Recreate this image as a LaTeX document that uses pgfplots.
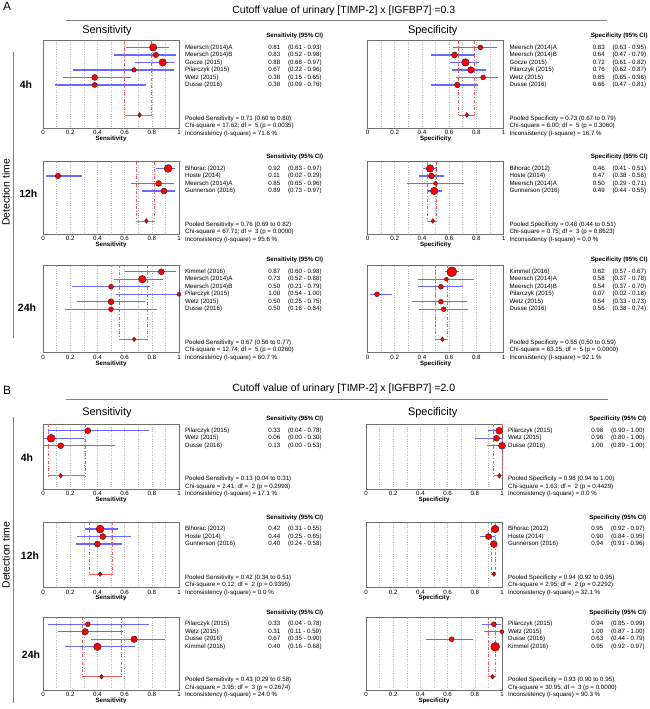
\documentclass[border=0pt]{standalone}
\usepackage{pgfplots}
\usepackage{pgfplotstable}
\usepackage{fontspec}
\setmainfont{Liberation Sans}
\pgfplotsset{compat=1.18}

\definecolor{cibar}{RGB}{105,105,255}
\definecolor{pool}{RGB}{255,90,90}
\definecolor{gridc}{RGB}{185,185,185}
\definecolor{framec}{RGB}{110,110,110}

\newcommand{\sm}{\fontsize{6.2}{7.5}\selectfont}

% study tables: row, estimate, 95% CI, marker radius, study
\pgfplotstableread[col sep=comma]{
row,est,lo,hi,r,name
1,0.81,0.61,0.93,3.7,Meersch (2014)A
2,0.83,0.52,0.98,2.8,Meersch (2014)B
3,0.88,0.68,0.97,3.7,Gocze (2015)
4,0.67,0.22,0.96,2.3,Pilarczyk (2015)
5,0.38,0.15,0.65,3.0,Wetz (2015)
6,0.38,0.09,0.76,2.6,Dusse (2016)
}\aSensFour
\pgfplotstableread[col sep=comma]{
row,est,lo,hi,r,name
1,0.83,0.63,0.95,2.5,Meersch (2014)A
2,0.64,0.47,0.79,3.0,Meersch (2014)B
3,0.72,0.61,0.82,3.8,Gocze (2015)
4,0.76,0.62,0.87,3.3,Pilarczyk (2015)
5,0.85,0.65,0.96,2.5,Wetz (2015)
6,0.66,0.47,0.81,2.8,Dusse (2016)
}\aSpecFour
\pgfplotstableread[col sep=comma]{
row,est,lo,hi,r,name
1,0.92,0.83,0.97,4.0,Bihorac (2012)
2,0.11,0.02,0.29,2.8,Hoste (2014)
3,0.85,0.65,0.96,3.0,Meersch (2014)A
4,0.89,0.73,0.97,3.0,Gunnerson (2016)
}\aSensTwelve
\pgfplotstableread[col sep=comma]{
row,est,lo,hi,r,name
1,0.46,0.41,0.51,3.8,Bihorac (2012)
2,0.47,0.38,0.56,3.0,Hoste (2014)
3,0.50,0.29,0.71,2.0,Meersch (2014)A
4,0.49,0.44,0.55,3.8,Gunnerson (2016)
}\aSpecTwelve
\pgfplotstableread[col sep=comma]{
row,est,lo,hi,r,name
1,0.87,0.60,0.98,3.0,Kimmel (2016)
2,0.73,0.52,0.88,3.8,Meersch (2014)A
3,0.50,0.21,0.79,2.5,Meersch (2014)B
4,1.00,0.54,1.00,2.0,Pilarczyk (2015)
5,0.50,0.25,0.75,3.0,Wetz (2015)
6,0.50,0.16,0.84,2.5,Dusse (2016)
}\aSensTwentyFour
\pgfplotstableread[col sep=comma]{
row,est,lo,hi,r,name
1,0.62,0.57,0.67,5.0,Kimmel (2016)
2,0.58,0.37,0.78,2.0,Meersch (2014)A
3,0.54,0.37,0.70,2.5,Meersch (2014)B
4,0.07,0.02,0.18,2.5,Pilarczyk (2015)
5,0.54,0.33,0.73,2.5,Wetz (2015)
6,0.56,0.38,0.74,2.5,Dusse (2016)
}\aSpecTwentyFour
\pgfplotstableread[col sep=comma]{
row,est,lo,hi,r,name
1,0.33,0.04,0.78,3.0,Pilarczyk (2015)
2,0.06,0.00,0.30,4.0,Wetz (2015)
3,0.13,0.00,0.53,3.0,Dusse (2016)
}\bSensFour
\pgfplotstableread[col sep=comma]{
row,est,lo,hi,r,name
1,0.98,0.90,1.00,3.5,Pilarczyk (2015)
2,0.96,0.80,1.00,3.0,Wetz (2015)
3,1.00,0.89,1.00,3.5,Dusse (2016)
}\bSpecFour
\pgfplotstableread[col sep=comma]{
row,est,lo,hi,r,name
1,0.42,0.31,0.55,4.0,Bihorac (2012)
2,0.44,0.25,0.65,3.0,Hoste (2014)
3,0.40,0.24,0.58,3.0,Gunnerson (2016)
}\bSensTwelve
\pgfplotstableread[col sep=comma]{
row,est,lo,hi,r,name
1,0.95,0.92,0.97,3.8,Bihorac (2012)
2,0.90,0.84,0.95,3.0,Hoste (2014)
3,0.94,0.91,0.96,3.5,Gunnerson (2016)
}\bSpecTwelve
\pgfplotstableread[col sep=comma]{
row,est,lo,hi,r,name
1,0.33,0.04,0.78,2.5,Pilarczyk (2015)
2,0.31,0.11,0.59,3.3,Wetz (2015)
3,0.67,0.35,0.90,3.3,Dusse (2016)
4,0.40,0.16,0.68,3.8,Kimmel (2016)
}\bSensTwentyFour
\pgfplotstableread[col sep=comma]{
row,est,lo,hi,r,name
1,0.94,0.85,0.99,2.5,Pilarczyk (2015)
2,1.00,0.87,1.00,2.0,Wetz (2015)
3,0.63,0.44,0.79,2.5,Dusse (2016)
4,0.95,0.92,0.97,4.5,Kimmel (2016)
}\bSpecTwentyFour

\pgfplotsset{
  forest/.style={
    anchor=north west, x=136bp, y=7.5bp,
    xmin=0, xmax=1, ymax=-0.1, clip=false,
    axis line style={framec, line width=1pt},
    xtick={0,0.2,0.4,0.6,0.8,1}, minor xtick={0.1,0.3,0.5,0.7,0.9},
    ytick=\empty, major tick length=0pt, minor tick length=0pt,
    xmajorgrids, xminorgrids,
    major grid style={gridc, dotted, line width=0.6pt},
    minor grid style={gridc, dotted, line width=0.6pt},
    xticklabel style={font=\sm, inner sep=0pt, yshift=-2bp},
    /pgf/number format/assume math mode=true,
    xlabel style={font=\sm\bfseries, inner sep=0pt, yshift=-1bp},
  },
  txt/.style={draw=none, mark=none, nodes near coords,
    every node near coord/.style={anchor=west, font=\sm, text=black,
      inner sep=0pt, text height=4.5bp, text depth=1.3bp}},
}
\tikzset{lab/.style={anchor=west, font=\sm, inner sep=0pt, text height=4.5bp, text depth=1.3bp}}
\newcommand{\ci}[1]{\pgfmathprintnumber[fixed, fixed zerofill, precision=2]{#1}}

% #1 position, #2 table, #3 pooled row, #4 measure, #5-#7 pooled estimate and CI,
% #8 chi-square line, #9 I-square
\newcommand{\forestpanel}[9]{%
  \pgfmathsetmacro{\yminv}{-#3-1.8}%
  \begin{axis}[forest, at={#1}, ymin=\yminv, xlabel={#4}]
    \addplot[pool, dashdotted, line width=0.9pt] coordinates {(#6,-0.1) (#6,-#3)};
    \addplot[pool, dashdotted, line width=0.9pt] coordinates {(#7,-0.1) (#7,-#3)};
    \addplot[pool, line width=0.9pt] coordinates {(#6,-#3) (#7,-#3)};
    \addplot[draw=none, mark=none, error bars/.cd, x dir=both, x explicit, error mark=none,
      error bar style={draw=cibar, line width=1.3pt}]
      table[x=est, y expr=-\thisrow{row}, x error minus expr=\thisrow{est}-\thisrow{lo},
        x error plus expr=\thisrow{hi}-\thisrow{est}] {#2};
    \addplot[scatter, only marks, mark=*,
      scatter/use mapped color={draw=black!85, fill=red},
      visualization depends on={\thisrow{r}\as\rad},
      scatter/@pre marker code/.append style={/tikz/mark size=\rad},
      mark options={line width=0.4pt}]
      table[x=est, y expr=-\thisrow{row}] {#2};
    \addplot[only marks, mark=diamond*, mark size=2.4pt,
      mark options={fill=red, draw=black!85, line width=0.4pt}] coordinates {(#5,-#3)};
    \addplot[txt, point meta=explicit symbolic] table[x expr=1.043, y expr=-\thisrow{row}, meta=name] {#2};
    \addplot[txt, point meta=explicit symbolic] table[x expr=1.655, y expr=-\thisrow{row}, meta=est] {#2};
    \addplot[txt, visualization depends on={\thisrow{lo}\as\cilo},
      visualization depends on={\thisrow{hi}\as\cihi},
      nodes near coords={(\ci{\cilo} - \ci{\cihi})}] table[x expr=1.80, y expr=-\thisrow{row}] {#2};
    \node[lab, font=\sm\bfseries, anchor=east] at (axis cs:2.062,0.53) {#4 (95\% CI)};
    \node[lab] at (axis cs:1.043,-#3-0.47) {Pooled #4 = #5 (#6 to #7)};
    \node[lab] at (axis cs:1.043,-#3-1.47) {Chi-square = #8};
    \node[lab] at (axis cs:1.043,-#3-2.47) {Inconsistency (I-square) = #9 \%};
  \end{axis}}

\begin{document}
\begin{tikzpicture}
\path[use as bounding box] (0,0) rectangle (650bp,-709bp);

% ---- panel A
\node[font=\fontsize{12}{12}\selectfont, anchor=base] at (7bp,-10bp) {A};
\node[font=\fontsize{10.5}{12}\selectfont, anchor=base] at (343.8bp,-13.3bp) {Cutoff value of urinary [TIMP-2] x [IGFBP7] =0.3};
\draw[gray, line width=0.8pt] (65.7bp,-20.7bp) -- (607.3bp,-20.7bp);
\node[font=\fontsize{11}{12}\selectfont, anchor=base] at (107bp,-33.5bp) {Sensitivity};
\node[font=\fontsize{11}{12}\selectfont, anchor=base] at (432.7bp,-33.5bp) {Specificity};
\node[rotate=90, font=\fontsize{10.5}{12}\selectfont] at (6bp,-192.5bp) {Detection time};
\draw[gray, line width=0.8pt] (13.5bp,-52bp) -- (13.5bp,-338bp);
\node[font=\fontsize{10.5}{12}\selectfont\bfseries, anchor=base] at (26bp,-88.3bp) {4h};
\node[font=\fontsize{10.5}{12}\selectfont\bfseries, anchor=base] at (28.3bp,-197.7bp) {12h};
\node[font=\fontsize{10.5}{12}\selectfont\bfseries, anchor=base] at (27bp,-311bp) {24h};

\forestpanel{(43bp,-40.7bp)}{\aSensFour}{10}{Sensitivity}{0.71}{0.60}{0.80}{17.62; df =\ \ 5 (p = 0.0035)}{71.6}
\forestpanel{(367.5bp,-40.7bp)}{\aSpecFour}{10}{Specificity}{0.73}{0.67}{0.79}{6.00; df =\ \ 5 (p = 0.3060)}{16.7}
\forestpanel{(43bp,-161.7bp)}{\aSensTwelve}{8}{Sensitivity}{0.76}{0.69}{0.82}{67.71; df =\ \ 3 (p = 0.0000)}{95.6}
\forestpanel{(367.5bp,-161.7bp)}{\aSpecTwelve}{8}{Specificity}{0.48}{0.44}{0.51}{0.75; df =\ \ 3 (p = 0.8623)}{0.0}
\forestpanel{(43bp,-265bp)}{\aSensTwentyFour}{10}{Sensitivity}{0.67}{0.56}{0.77}{12.74; df =\ \ 5 (p = 0.0260)}{60.7}
\forestpanel{(367.5bp,-265bp)}{\aSpecTwentyFour}{10}{Specificity}{0.55}{0.50}{0.59}{63.15; df =\ \ 5 (p = 0.0000)}{92.1}

% ---- panel B
\node[font=\fontsize{12}{12}\selectfont, anchor=base] at (7bp,-394.3bp) {B};
\node[font=\fontsize{10.5}{12}\selectfont, anchor=base] at (343.8bp,-391.7bp) {Cutoff value of urinary [TIMP-2] x [IGFBP7] =2.0};
\draw[gray, line width=0.8pt] (65.7bp,-399.3bp) -- (608bp,-399.3bp);
\node[font=\fontsize{11}{12}\selectfont, anchor=base] at (107bp,-415.5bp) {Sensitivity};
\node[font=\fontsize{11}{12}\selectfont, anchor=base] at (432.7bp,-415.5bp) {Specificity};
\node[rotate=90, font=\fontsize{10.5}{12}\selectfont] at (6bp,-555bp) {Detection time};
\draw[gray, line width=0.8pt] (13.5bp,-417.3bp) -- (13.5bp,-702.7bp);
\node[font=\fontsize{10.5}{12}\selectfont\bfseries, anchor=base] at (27bp,-461.7bp) {4h};
\node[font=\fontsize{10.5}{12}\selectfont\bfseries, anchor=base] at (30bp,-559.3bp) {12h};
\node[font=\fontsize{10.5}{12}\selectfont\bfseries, anchor=base] at (31bp,-658.3bp) {24h};

\forestpanel{(43bp,-424bp)}{\bSensFour}{7}{Sensitivity}{0.13}{0.04}{0.31}{2.41; df =\ \ 2 (p = 0.2993)}{17.1}
\forestpanel{(366bp,-424bp)}{\bSpecFour}{7}{Specificity}{0.98}{0.94}{1.00}{1.63; df =\ \ 2 (p = 0.4429)}{0.0}
\forestpanel{(43bp,-522.3bp)}{\bSensTwelve}{7}{Sensitivity}{0.42}{0.34}{0.51}{0.12; df =\ \ 2 (p = 0.9395)}{0.0}
\forestpanel{(366bp,-522.3bp)}{\bSpecTwelve}{7}{Specificity}{0.94}{0.92}{0.95}{2.95; df =\ \ 2 (p = 0.2292)}{32.1}
\forestpanel{(43bp,-617.5bp)}{\bSensTwentyFour}{8}{Sensitivity}{0.43}{0.29}{0.58}{3.95; df =\ \ 3 (p = 0.2674)}{24.0}
\forestpanel{(366bp,-617.5bp)}{\bSpecTwentyFour}{8}{Specificity}{0.93}{0.90}{0.95}{30.95; df =\ \ 3 (p = 0.0000)}{90.3}
\end{tikzpicture}
\end{document}
